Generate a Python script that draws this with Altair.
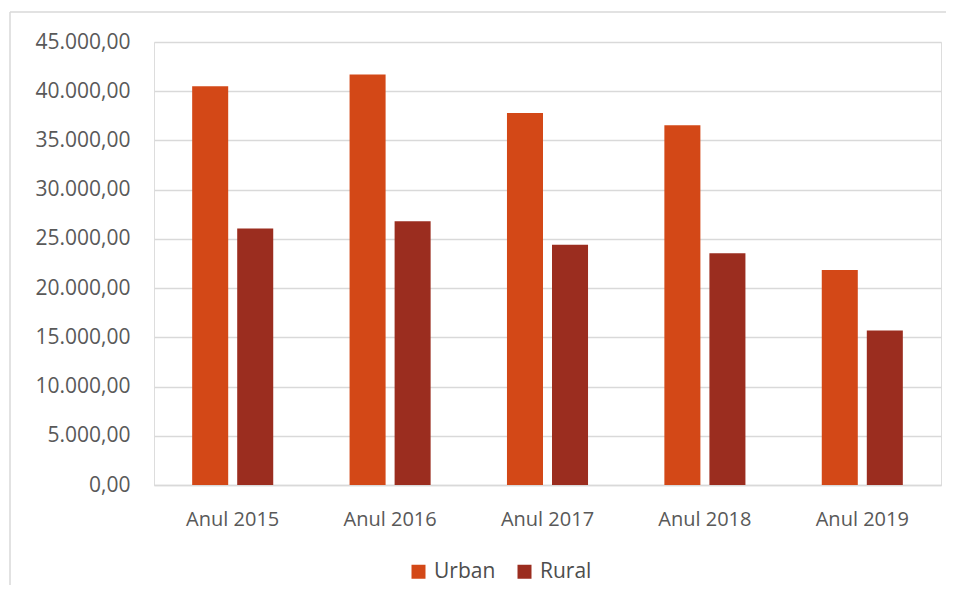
import altair as alt
import pandas as pd

years = ["Anul 2015", "Anul 2016", "Anul 2017", "Anul 2018", "Anul 2019"]
series = ["Urban", "Rural"]
urban = [40500, 41700, 37800, 36550, 21850]
rural = [26050, 26800, 24400, 23550, 15700]
y_ticks = list(range(0, 45001, 5000))
colors = ["#D34817", "#9B2D1F"]

rows = []
for i, yr in enumerate(years):
    rows.append({"year": yr, "series": "Urban", "value": urban[i]})
    rows.append({"year": yr, "series": "Rural", "value": rural[i]})
df = pd.DataFrame(rows)

FONT = "Open Sans"
GRAY = "#595959"
GRID = "#d9d9d9"

one = alt.Data(values=[{"a": 1}])
frame_left = alt.Chart(one).mark_rule(color=GRID, strokeWidth=1.5).encode(
    x=alt.value(-144), y=alt.value(-30), y2=alt.value(700)
)
frame_top = alt.Chart(one).mark_rule(color=GRID, strokeWidth=1.5).encode(
    x=alt.value(-144), x2=alt.value(900), y=alt.value(-30)
)

bars = alt.Chart(df).mark_bar().encode(
    x=alt.X("year:N", sort=years,
            scale=alt.Scale(paddingInner=0.485, paddingOuter=0.2425),
            axis=alt.Axis(title=None, labelAngle=0, ticks=False, domainColor=GRID,
                          domainWidth=1.5, labelPadding=24, labelFontSize=20,
                          labelColor=GRAY, labelFont=FONT)),
    xOffset=alt.XOffset("series:N", sort=series,
                        scale=alt.Scale(paddingInner=0.2, paddingOuter=0)),
    y=alt.Y("value:Q", scale=alt.Scale(domain=[0, 45000]),
            axis=alt.Axis(values=y_ticks, format=",.2f", title=None, ticks=False,
                          domain=False, gridColor=GRID, gridWidth=1.3,
                          labelPadding=24, labelFontSize=21, labelColor=GRAY,
                          labelFont=FONT)),
    color=alt.Color("series:N", sort=series,
                    scale=alt.Scale(domain=series, range=colors),
                    legend=alt.Legend(title=None, orient="none", legendX=254, legendY=519,
                                      direction="horizontal", symbolType="square",
                                      symbolSize=196, symbolStrokeWidth=0,
                                      labelFontSize=21, labelColor="#4d4d4d", labelFont=FONT,
                                      labelOffset=5, columnPadding=18)),
)

chart = alt.layer(frame_left, frame_top, bars).properties(
    width=787, height=443,
    autosize=alt.AutoSizeParams(type="none"),
    padding={"left": 146, "top": 34, "right": 5, "bottom": 100},
).configure_view(stroke=None).configure(
    locale=alt.Locale(number=alt.NumberLocale(decimal=",", thousands=".",
                                              grouping=[3], currency=["", ""]))
)

chart.save("out.html", embed_options={"renderer": "svg", "actions": False})
